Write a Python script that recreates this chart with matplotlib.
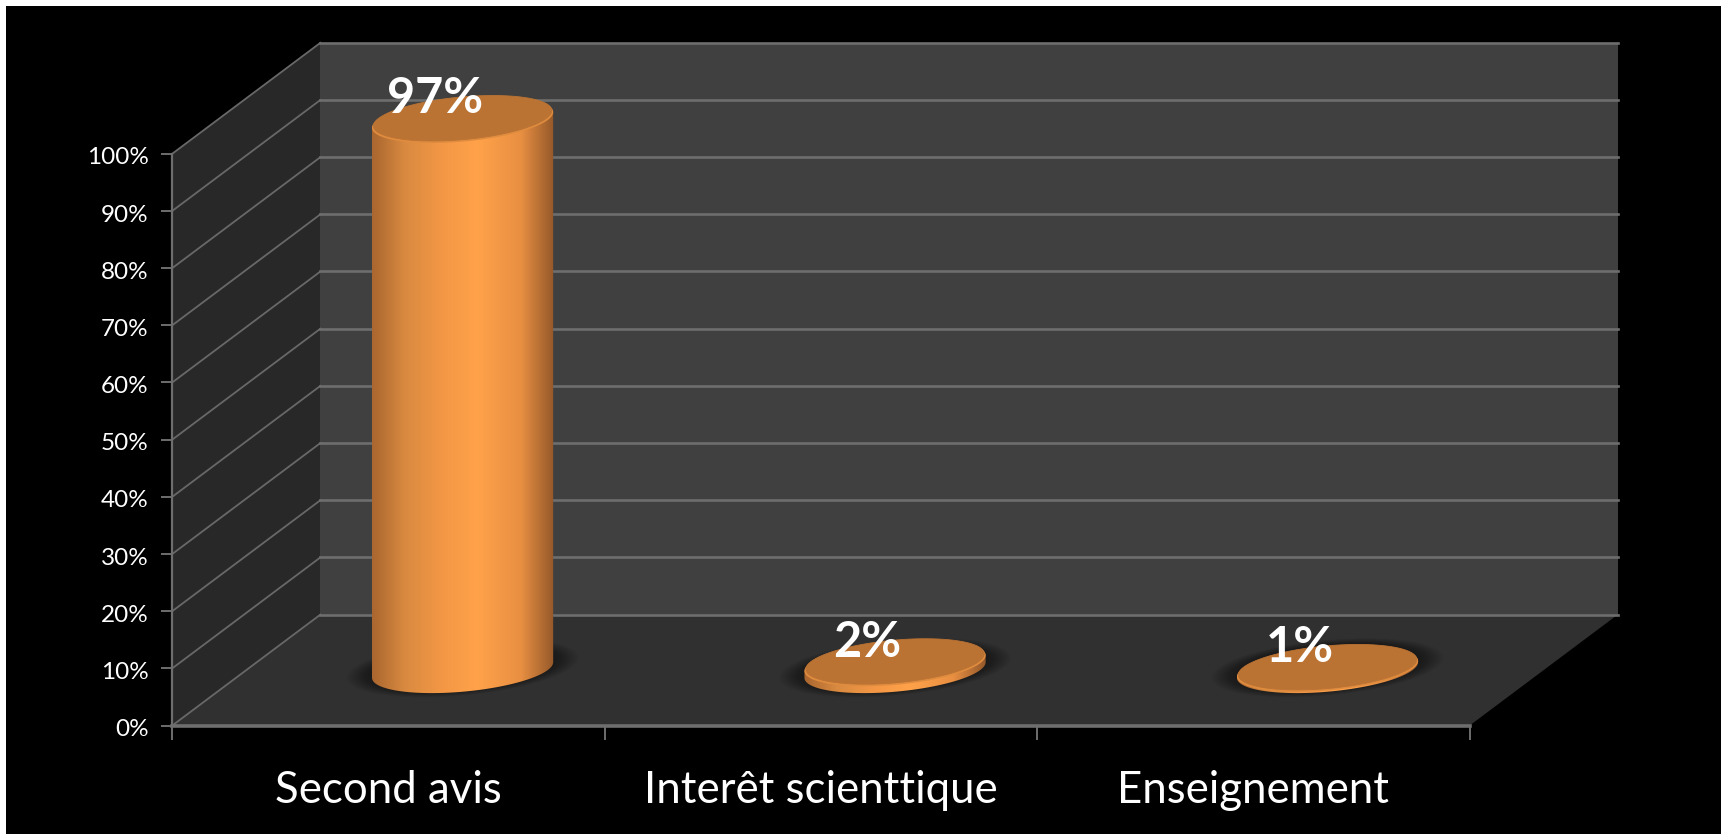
import numpy as np
import matplotlib
matplotlib.use("Agg")
import matplotlib.pyplot as plt
from matplotlib.colors import LinearSegmentedColormap
from matplotlib.patches import Polygon, Rectangle
from matplotlib.transforms import ScaledTranslation

categories = ["Second avis", "Interêt scienttique", "Enseignement"]
values = [97, 2, 1]
labels = ["97%", "2%", "1%"]
y_ticks = [0, 10, 20, 30, 40, 50, 60, 70, 80, 90, 100]
y_tick_labels = ["0%", "10%", "20%", "30%", "40%", "50%", "60%", "70%", "80%", "90%", "100%"]

W, H = 1721, 834
plt.rcParams["font.family"] = ["Lato", "DejaVu Sans"]
fig = plt.figure(figsize=(W / 100, H / 100), dpi=100, facecolor="white")
fig.patches.append(Rectangle((6 / W, 0), 1 - 6 / W, 1 - 6 / H, transform=fig.transFigure,
                             facecolor="black", edgecolor="none", zorder=-5))

L, R, B, T = 172.3, 1469.7, 725.5, 153.7
ax = fig.add_axes([L / W, 1 - B / H, (R - L) / W, (B - T) / H], facecolor="none")
ax.set_xlim(0, 3)
ax.set_ylim(0, 100)

DX, DY = 0.3425, 19.4   # oblique depth projection in data units per unit depth
GRID = "#6e6e6e"


def proj(x, y, z):
    return x + np.asarray(z) * DX, y + np.asarray(z) * DY


def poly(points, **kw):
    p = Polygon(points, clip_on=False, **kw)
    ax.add_patch(p)
    return p


# walls and floor
poly([proj(0, 0, 0), proj(0, 100, 0), proj(0, 100, 1), proj(0, 0, 1)], facecolor="#282828", edgecolor="none", zorder=1)
poly([proj(0, 0, 1), proj(0, 100, 1), proj(3, 100, 1), proj(3, 0, 1)], facecolor="#404040", edgecolor="none", zorder=1)
poly([proj(0, 0, 0), proj(3, 0, 0), proj(3, 0, 1), proj(0, 0, 1)], facecolor="#303030", edgecolor="none", zorder=1)

# gridlines
for v in y_ticks:
    xs, ys = proj(np.array([0, 0]), v, np.array([0, 1]))
    ax.plot(xs, ys, color="#686868", lw=1.3, clip_on=False, zorder=2)
    xs, ys = proj(np.array([0, 3]), v, np.array([1, 1]))
    ax.plot(xs, ys, color=GRID, lw=1.9, clip_on=False, zorder=2)
ax.plot([0, 3], [0, 0], color=GRID, lw=2.6, clip_on=False, zorder=2)
ax.plot([0, 0], [0, 100], color=GRID, lw=1.6, clip_on=False, zorder=2)

# cylinders
cmap = LinearSegmentedColormap.from_list(
    "cyl", [(0, "#a9662f"), (0.18, "#d98a40"), (0.4, "#f59846"), (0.58, "#ffa24a"),
            (0.82, "#e88f42"), (1, "#95592a")])
A = 0.197     # radius along category axis
RZ = 0.208    # radius along depth
Z0 = 0.5
CAP_INSET = 0.8   # the rounded cap sits slightly below the nominal value
gradient = np.linspace(0, 1, 256).reshape(1, -1)
t0 = np.arctan2(RZ * DX, A)


def ring(cx, cy, t, scale=1.0):
    x = cx + scale * (A * np.cos(t) + RZ * DX * np.sin(t))
    y = cy + scale * RZ * DY * np.sin(t)
    return x, y


all_t = np.linspace(0, 2 * np.pi, 160)
half_w = np.hypot(A, RZ * DX)
for i, (val, lab) in enumerate(zip(values, labels)):
    cx, cy = proj(i + 0.5, 0, Z0)
    top = cy + val - CAP_INSET

    # soft shadow on the floor
    for s in np.linspace(1.28, 1.0, 14):
        x, y = ring(cx, cy + 0.4, all_t, s)
        poly(np.c_[x, y], facecolor="black", alpha=0.032, edgecolor="none", zorder=3)

    # body with horizontal gradient
    tb = np.linspace(t0 + np.pi, t0 + 2 * np.pi, 80)
    tt = np.linspace(t0, t0 + np.pi, 80)
    xb, yb = ring(cx, cy, tb)
    xt, yt = ring(cx, top, tt)
    body = poly(np.r_[np.c_[xb, yb], np.c_[xt, yt]], facecolor="none", edgecolor="none", zorder=4)
    im = ax.imshow(gradient, cmap=cmap, aspect="auto", zorder=4, interpolation="bilinear",
                   extent=(cx - half_w, cx + half_w, cy - 10, top + 10))
    im.set_clip_path(body)
    im.set_clip_box(fig.bbox)

    # top cap with a lighter rim along its lower edge
    x, y = ring(cx, top, all_t)
    poly(np.c_[x, y], facecolor="#e08c3f", edgecolor="none", zorder=5)
    x, y = ring(cx, top + 0.3, all_t, 0.985)
    poly(np.c_[x, y], facecolor="#bb7334", edgecolor="#bb7334", lw=0.6, zorder=6)

    ax.annotate(lab, xy=(cx, top), xytext=(-28, 21), textcoords="offset pixels",
                ha="center", va="center", color="white", fontsize=35, fontweight="bold",
                annotation_clip=False, zorder=8)

ax.set_xlim(0, 3)
ax.set_ylim(0, 100)

# axes, ticks and labels
for s in ax.spines.values():
    s.set_visible(False)
ax.set_yticks(y_ticks, y_tick_labels)
ax.set_xticks(range(len(categories) + 1), [""] * (len(categories) + 1))
ax.set_xticks([i + 0.5 for i in range(len(categories))], categories, minor=True)
ax.tick_params(axis="y", length=8, width=1.2, color="#808080", labelcolor="white", labelsize=17.5, pad=9)
ax.tick_params(axis="x", which="major", length=10, width=1.2, color="#808080")
ax.tick_params(axis="x", which="minor", length=0, labelcolor="white", labelsize=31.5, pad=32)
shift = ScaledTranslation(0, -2.2 / 100, fig.dpi_scale_trans)
for tick_label in ax.get_yticklabels():
    tick_label.set_transform(tick_label.get_transform() + shift)

fig.savefig("out.png", dpi=100, facecolor=fig.get_facecolor())
